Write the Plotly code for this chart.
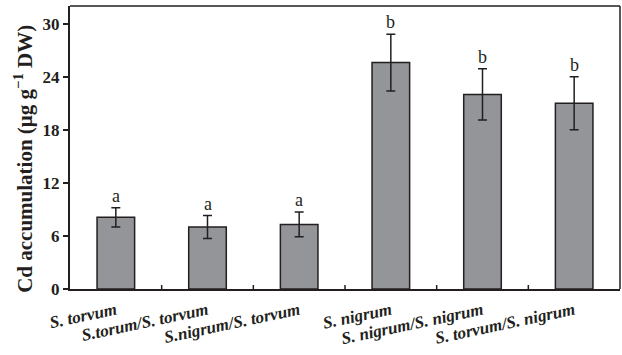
import plotly.graph_objects as go

categories = ["S. torvum", "S.torum/S. torvum", "S.nigrum/S. torvum",
              "S. nigrum", "S. nigrum/S. nigrum", "S. torvum/S. nigrum"]
means = [8.1, 7.0, 7.3, 25.6, 22.0, 21.0]
errors = [1.1, 1.3, 1.4, 3.2, 2.9, 3.0]
letters = ["a", "a", "a", "b", "b", "b"]
y_ticks = [0, 6, 12, 18, 24, 30]
y_title = "Cd accumulation (μg g<sup>−1</sup> DW)"

dark = "#231f20"
fig = go.Figure()
fig.add_trace(go.Bar(
    x=list(range(len(categories))), y=means, width=0.41,
    marker=dict(color="#939598", line=dict(color=dark, width=1.5)),
    error_y=dict(type="data", array=errors, visible=True, color=dark,
                 thickness=1.5, width=4.5),
))
for i, (m, e, l) in enumerate(zip(means, errors, letters)):
    fig.add_annotation(x=i, y=m + e, text=l, showarrow=False, yanchor="bottom",
                       yshift=0, font=dict(family="Liberation Serif", size=18, color=dark))

# y-axis title placed as rotated annotation
fig.add_annotation(xref="paper", yref="paper", x=-46 / 550, y=0.46,
                   text="<b>%s</b>" % y_title, textangle=-90, showarrow=False,
                   xanchor="center", yanchor="middle",
                   font=dict(family="Liberation Serif", size=21, color=dark))

fig.update_layout(
    width=622, height=355, margin=dict(l=70, r=2, t=6, b=66, autoexpand=False),
    plot_bgcolor="white", paper_bgcolor="white", showlegend=False,
    font=dict(family="Liberation Serif", color=dark),
    xaxis=dict(range=[-0.5, 5.5], tickmode="array", automargin=False,
               tickvals=list(range(len(categories))),
               ticktext=["<b><i>%s</i></b>" % c for c in categories],
               tickangle=-12, tickfont=dict(size=17, family="Liberation Serif"),
               ticks="", showline=True, linecolor=dark, linewidth=2,
               ticklabelstandoff=3,
               showgrid=False, zeroline=False),
    yaxis=dict(range=[0, 32], tickvals=y_ticks, automargin=False,
               ticktext=["<b>%d</b>" % v for v in y_ticks],
               tickfont=dict(size=17, family="Liberation Serif"),
               ticks="outside", ticklen=5, tickcolor=dark, tickwidth=1.5,
               showline=True, linecolor=dark, linewidth=2,
               showgrid=False, zeroline=False),
)
# inner tick marks between categories
for k in range(len(categories) - 1):
    fig.add_shape(type="line", xref="x", yref="y", x0=k + 0.5, x1=k + 0.5,
                  y0=0, y1=0.45, line=dict(color=dark, width=1.5))
# top and right frame
fig.add_shape(type="line", xref="paper", yref="paper", x0=0, x1=1, y0=1, y1=1,
              line=dict(color=dark, width=1.5))
fig.add_shape(type="line", xref="paper", yref="paper", x0=1, x1=1, y0=0, y1=1,
              line=dict(color=dark, width=1.5))

fig.write_html("out.html", config={"displayModeBar": False},
               post_script="document.body.style.margin='0';document.body.style.overflow='hidden';")
